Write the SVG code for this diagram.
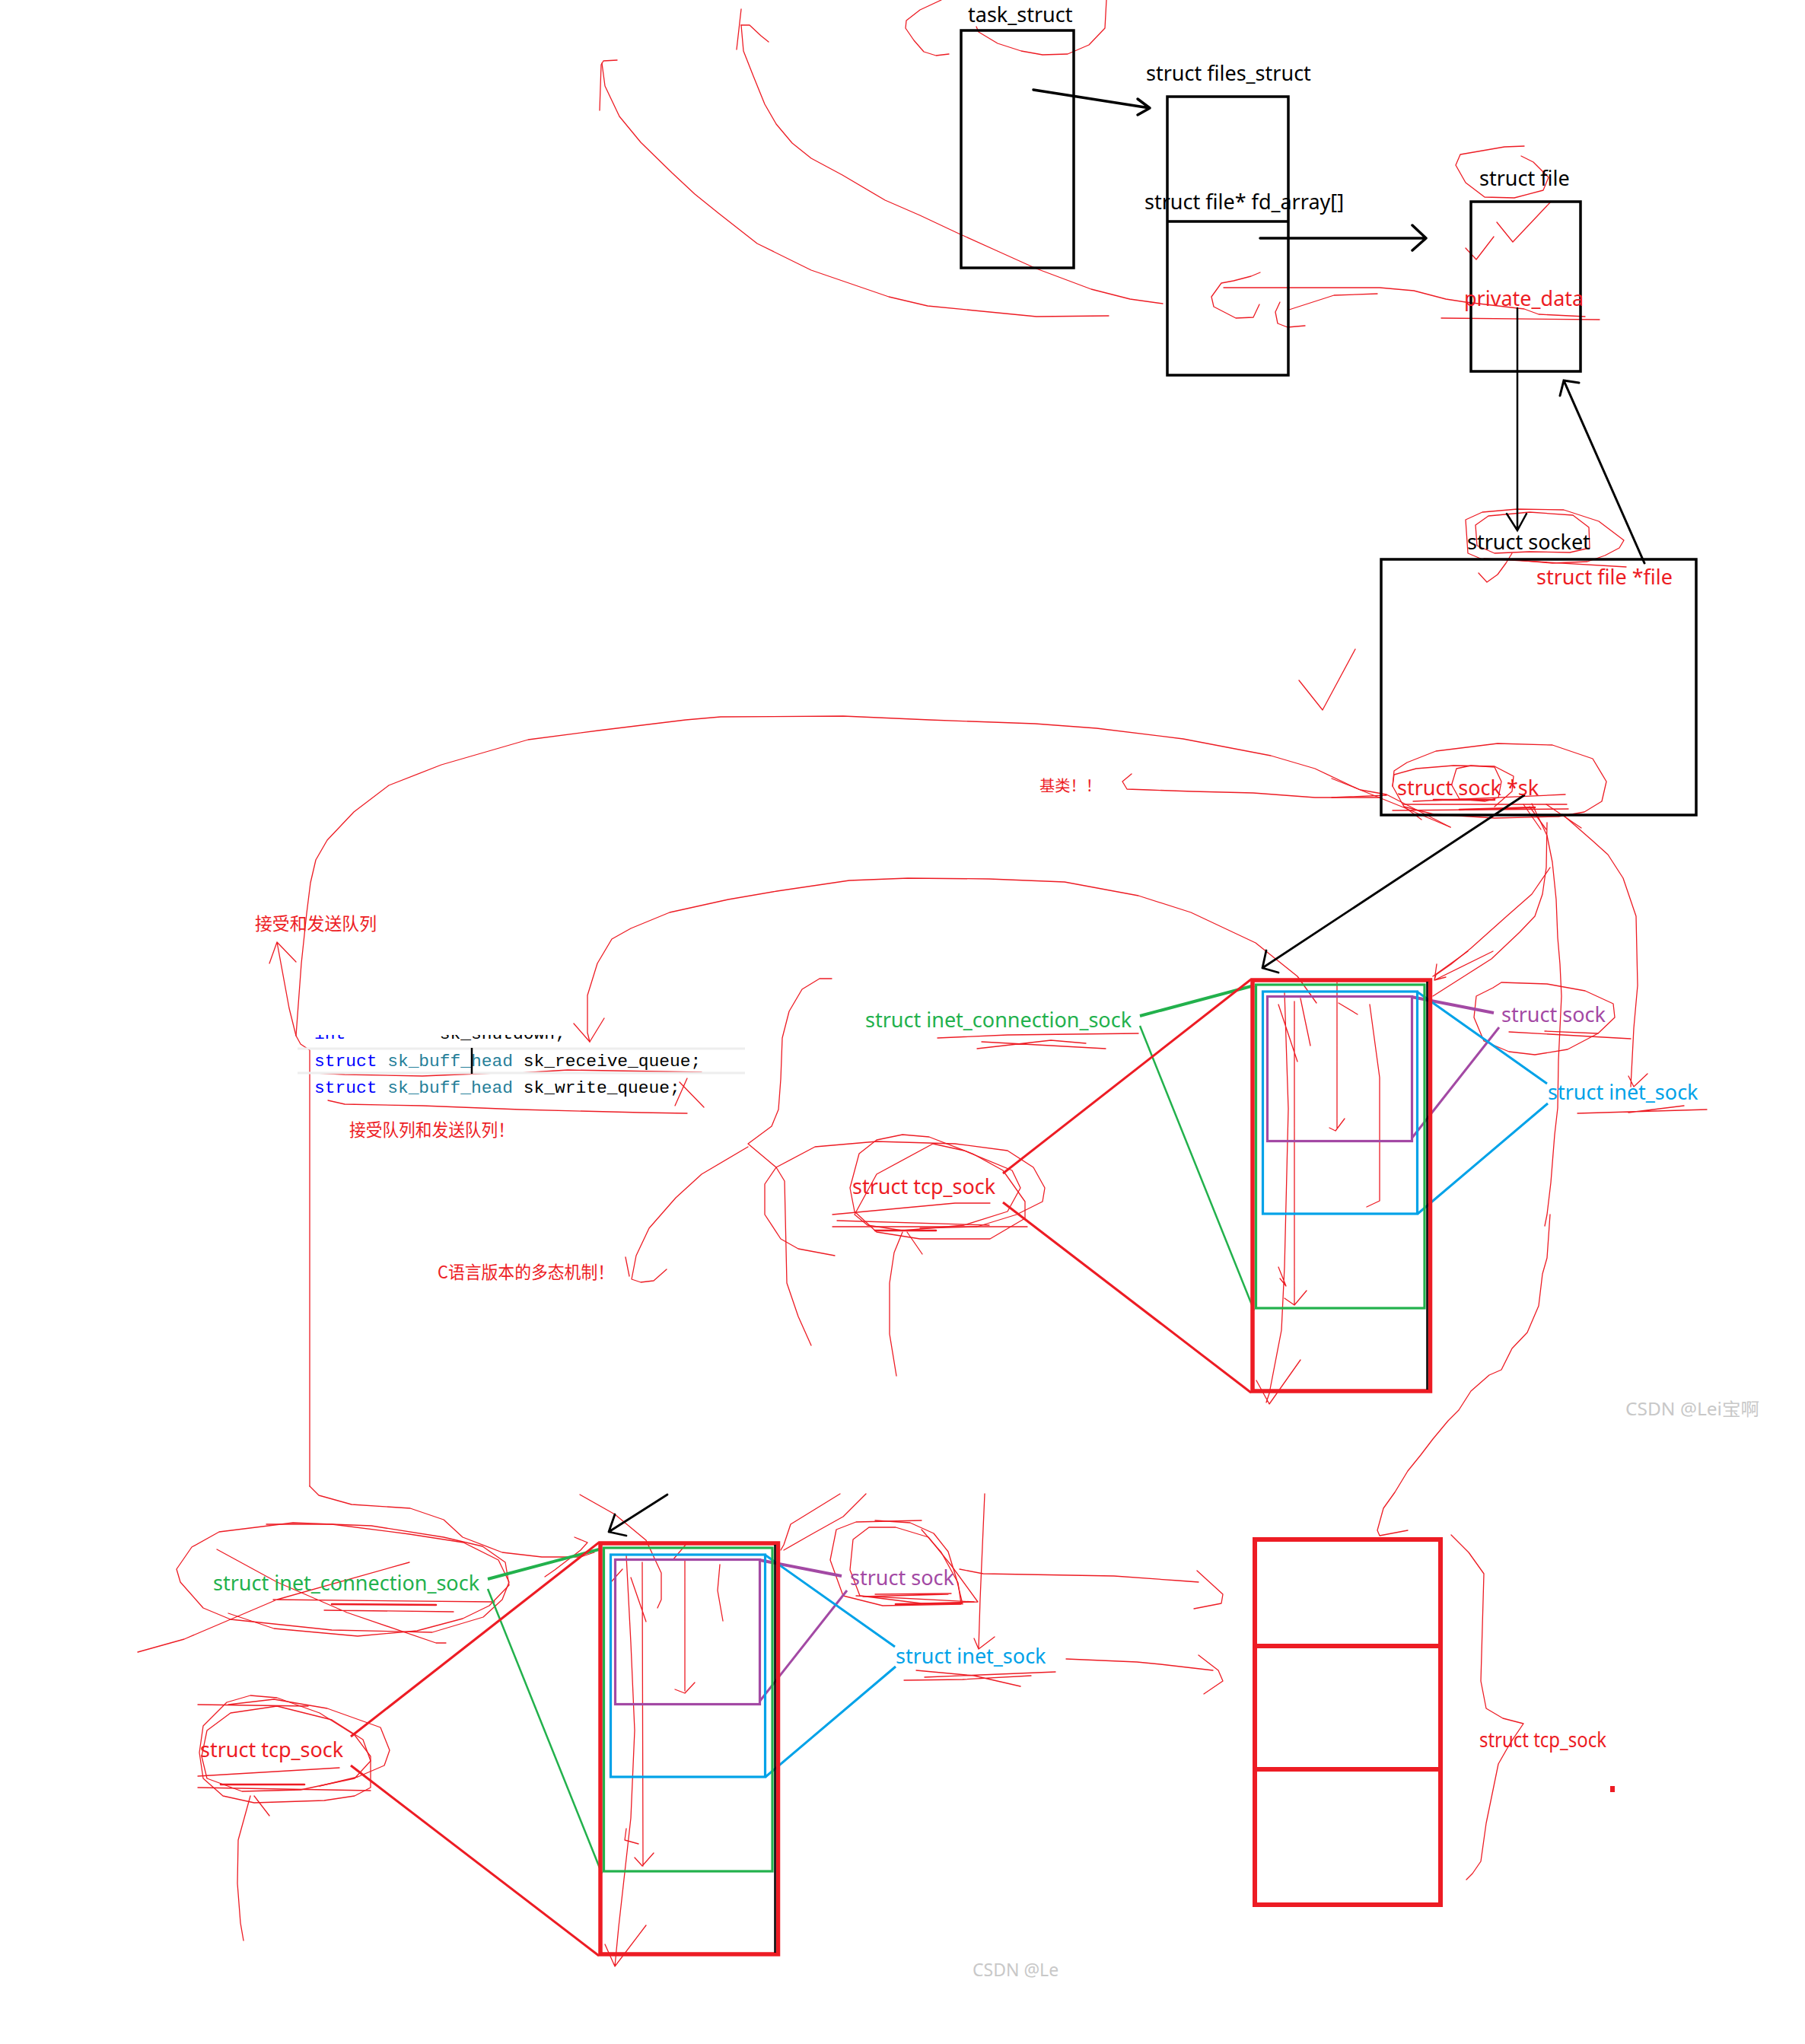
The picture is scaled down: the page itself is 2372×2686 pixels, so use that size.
<svg xmlns="http://www.w3.org/2000/svg" width="2372" height="2686" viewBox="0 0 2372 2686">
<style>
.bx{fill:none;stroke:#000;stroke-width:3.5}
.ar{fill:none;stroke:#000;stroke-width:3.5;stroke-linecap:round;stroke-linejoin:round}
.s{fill:none;stroke:#ED1C24;stroke-width:1.3;stroke-linejoin:round;stroke-linecap:round}
.st{fill:none;stroke:#ED1C24;stroke-width:2.6;stroke-linecap:round}
.t{font-family:"Noto Sans","Open Sans",sans-serif;font-size:27px}
.cn{font-family:"Noto Sans CJK SC","Noto Sans",sans-serif}
.code{font-family:"Liberation Mono","DejaVu Sans Mono",monospace;font-size:22.9px;white-space:pre}
.k{fill:#000}
.r{fill:#ED1C24}
.g{fill:#22B14C}
.b{fill:#00A2E8}
.p{fill:#A349A4}
.wm{fill:#c8c8c8;font-family:"Noto Sans","Noto Sans CJK SC",sans-serif;font-size:23px}
</style>
<defs>
<clipPath id="cl"><rect x="380" y="1360" width="620" height="11"/></clipPath>
</defs>
<rect width="2372" height="2686" fill="#fff"/>

<!-- freehand red scribbles -->
<g id="scribbles">
<path class="s" d="M811,79 L793,80 L790,85 L788,145"/>
<path class="s" d="M791,83 L795,113 L814,153 L842,187 L883,227 L913,255 L944,280 L995,320 L1066,355 L1168,390 L1219,402 L1362,416 L1457,415"/>
<path class="s" d="M974,12 L968,65 M974,33 L985,33 L1000,47 L1010,55"/>
<path class="s" d="M974,33 L977,67 L990,100 L1005,137 L1020,163 L1041,188 L1066,208 L1107,230 L1163,263 L1209,283 L1260,307 L1311,330 L1362,353 L1434,380 L1485,393 L1528,399"/>
<path class="s" d="M1247,71 L1230,73 L1214,68 L1201,53 L1190,37 L1191,27 L1209,13 L1237,0"/>
<path class="s" d="M1283,35 L1286,42 L1311,57 L1342,67 L1370,72 L1403,71 L1431,59 L1452,37 L1454,0"/>
<path class="s" d="M1656,358 L1644,363 L1621,369 L1605,372 L1592,390 L1595,403 L1624,418 L1647,417 L1655,400"/>
<path class="s" d="M1608,378 L1813,378 L1858,382 L1900,393 L1926,397 L2003,406 L2022,413 L2083,416"/>
<path class="s" d="M1682,397 L1676,410 L1679,425 L1692,430 L1715,428"/>
<path class="s" d="M1694,407 L1753,388 L1810,386"/>
<path class="s" d="M1894,418 L2102,420"/>
<path class="s" d="M2003,192 L1977,193 L1919,203 L1913,217 L1926,240 L1951,259 L1990,260 L2028,250 L2035,233 L2015,213 L1999,205"/>
<path class="s" d="M1926,326 L1940,341 L1963,311 M1967,292 L1988,318 L2038,265"/>
<path class="s" d="M1948,735 L1929,727 L1926,683 L1948,673 L1994,669 L2055,670 L2101,685 L2134,710 L2128,720 L2109,730 L2086,738 L2040,740 L1983,735 L1950,735"/>
<path class="s" d="M1939,690 L1956,678 L2010,673 L2067,677 L2088,693 L2089,720 L2063,726 L2010,725 L1964,727 L1941,717 L1939,690"/>
<path class="s" d="M1950,734 L2137,745"/>
<path class="s" d="M1987,727 L1979,740 L1968,755 L1954,765 L1943,753"/>
<path class="s" d="M1707,894 L1738,933 L1781,853"/>
<path class="s" d="M1832,1013 L1849,1002 L1887,987 L1968,977 L2040,979 L2093,997 L2111,1027 L2105,1053 L2082,1067 L2048,1073 L1964,1075 L1884,1070 L1845,1060 L1830,1033 Z"/>
<path class="s" d="M1830,1033 L1832,1018 L1861,1010 L1910,1006 L1964,1007 L1989,1020 L1987,1040 L1964,1060"/>
<path class="s" d="M1908,1030 L1914,1010 L1933,1006 L1964,1008 L1973,1027 L1969,1048 L1952,1053 L1918,1050 L1908,1032"/>
<path class="s" d="M1844,1057 L2059,1057 M1830,1065 L2061,1063 M1857,1053 L2057,1044"/>
<path class="st" d="M1918,1064 L2017,1061 M1884,1051 L1964,1051"/>
<path class="s" d="M1750,1048 L1822,1045 M1750,1023 L1788,1038 L1822,1044 L1906,1087 M1845,1060 L1868,1077"/>
<path class="s" d="M2002,1057 L2025,1090 M2010,1060 L2032,1090 M2032,1057 L2078,1088"/>
<path class="s" d="M1487,1017 L1475,1027 L1481,1037 L1510,1038 L1567,1040 L1647,1042 L1728,1048 L1814,1048"/>
<path class="s" d="M407,1953 L407,1380 L395,1372 L389,1361 L396,1266 L403,1200 L408,1160 L415,1130 L430,1104 L465,1067 L511,1032 L580,1005 L694,972 L786,960 L901,946 L947,942 L1108,941 L1222,946 L1360,951 L1441,957 L1555,971 L1670,993 L1728,1010 L1785,1037 L1842,1060 L1906,1087"/>
<path class="s" d="M407,1953 L419,1965 L462,1977 L539,1982 L583,1997 L608,2020 L660,2040 L712,2046 L763,2046 L781,2040"/>
<path class="s" d="M389,1361 L380,1325 L364,1238 M354,1266 L364,1238 L389,1264"/>
<path class="s" d="M775,1369 L772,1357 L772,1308 L785,1266 L804,1234 L829,1220 L880,1199 L957,1182 L1021,1171 L1116,1157 L1193,1154 L1300,1155 L1399,1159 L1496,1177 L1565,1199 L1650,1239 L1705,1283 L1730,1318"/>
<path class="s" d="M754,1345 L775,1369 L794,1338"/>
<path class="s" d="M1093,1286 L1077,1286 L1054,1300 L1037,1329 L1028,1364 L1026,1418 L1023,1458 L1014,1480 L983,1503 L1020,1534 L1031,1552 L1034,1686 L1049,1730 L1066,1768"/>
<path class="s" d="M983,1507 L922,1543 L888,1574 L853,1614 L836,1650 L830,1681 L842,1685 L859,1683 L876,1668 M822,1652 L827,1677"/>
<path class="s" d="M1005,1556 L1020,1534 L1071,1507 L1152,1500 L1255,1503 L1324,1512 L1358,1534 L1373,1561 L1370,1579 L1336,1596 L1284,1612 L1209,1614 M1005,1556 L1005,1596 L1026,1628 L1049,1641 L1097,1650"/>
<path class="s" d="M1117,1561 L1129,1516 L1152,1498 L1186,1491 L1221,1494 L1278,1516 L1318,1538 L1347,1579 L1347,1601 L1301,1628 L1209,1628 L1152,1619 L1123,1592 Z"/>
<path class="s" d="M1123,1596 L1152,1543 L1226,1503 L1267,1512 L1330,1538 L1341,1561 L1324,1592 L1267,1610 L1186,1617 L1140,1610 Z"/>
<path class="s" d="M1094,1596 L1255,1581 L1301,1581 M1094,1612 L1350,1612 M1100,1604 L1300,1610"/>
<path class="st" d="M1150,1617 L1230,1617"/>
<path class="s" d="M1186,1619 L1175,1646 L1169,1686 L1169,1753 L1178,1808 M1192,1619 L1212,1648"/>
<path class="s" d="M1232,1364 L1324,1360 L1496,1358 M1284,1378 L1381,1367 L1427,1371 M1290,1369 L1453,1378"/>
<path class="s" d="M415,1410 L453,1412 L555,1414 L651,1410 M683,1410 L746,1406 L922,1409 M431,1446 L453,1451 L555,1453 L683,1458 L842,1462 L903,1463 M893,1422 L925,1455 M903,1417 L887,1453"/>
<path class="s" d="M1688,1304 L1693,1457 L1688,1665 L1684,1748 L1668,1831 L1664,1843 M1701,1316 L1701,1715 M1688,1706 L1701,1715 L1717,1696 M1757,1291 L1757,1482 M1747,1482 L1755,1486 L1767,1470 M1800,1320 L1813,1416 L1813,1578 L1796,1586 M1680,1320 L1705,1395 M1709,1312 L1722,1374 M1759,1318 L1784,1333 M1651,1814 L1668,1845 L1709,1787 M1883,1283 L1929,1250 M1887,1287 L1962,1250 M1680,1665 L1690,1690 L1682,1680"/>
<path class="s" d="M2013,1056 L2033,1098 L2040,1133 L2045,1182 L2047,1232 L2050,1267 L2052,1309 L2048,1393 L2047,1456 L2043,1491 L2038,1554 L2033,1596 L2030,1611 M2037,1596 L2033,1653 L2027,1674 L2022,1716 L2007,1751 L1987,1772 L1973,1800 L1957,1807 L1933,1828 L1917,1853 L1903,1867 L1883,1891 L1867,1912 L1850,1933 L1833,1961 L1818,1982 L1810,2011 L1813,2018 L1850,2011"/>
<path class="s" d="M2033,1081 L2032,1140 L2027,1175 L2017,1204 L1997,1225 L1960,1260 L1927,1281 L1883,1309"/>
<path class="s" d="M2037,1140 L2013,1175 L1980,1204 L1933,1246 L1907,1267 L1887,1281 L1885,1288 M1888,1267 L1885,1288 L1900,1284"/>
<path class="s" d="M2053,1070 L2093,1105 L2113,1123 L2133,1154 L2150,1204 L2152,1295 L2147,1351 L2143,1428 M2140,1414 L2147,1428 L2165,1411"/>
<path class="s" d="M1962,1298 L1940,1309 L1937,1337 L1950,1368 L1983,1382 L2017,1386 L2060,1379 L2100,1358 L2122,1337 L2120,1319 L2083,1302 L2033,1293 L1973,1291 Z"/>
<path class="s" d="M1983,1356 L2143,1365 M2030,1355 L2100,1358"/>
<path class="s" d="M2073,1463 L2243,1458 M2140,1462 L2213,1453"/>
<path class="s" d="M232,2062 L252,2033 L288,2013 L385,2001 L436,2003 L538,2016 L609,2027 L655,2050 L669,2079 L660,2102 L635,2125 L568,2145 L436,2142 L303,2128 L267,2113 L237,2079 Z"/>
<path class="s" d="M350,2003 L436,2003 L488,2005 L583,2020 L634,2032 L664,2053 L669,2083 L643,2110 L608,2127 L548,2143 L470,2150 L360,2140 L300,2120"/>
<path class="s" d="M181,2171 L242,2154 L364,2102 L538,2053 M285,2036 L364,2079 L456,2119 L573,2159 L586,2159 M359,2102 L650,2105 M426,2116 L596,2118"/>
<path class="st" d="M436,2108 L573,2109"/>
<path class="s" d="M716,2072 L729,2063 L763,2037 L772,2027 L755,2020"/>
<path class="s" d="M262,2303 L267,2268 L298,2237 L329,2228 L364,2231 L420,2251 L466,2280 L487,2308 L487,2349 L466,2360 L426,2366 L334,2369 L293,2360 L267,2337 Z"/>
<path class="s" d="M272,2274 L303,2251 L364,2242 L436,2260 L477,2286 L487,2314 L466,2337 L395,2352 L318,2354 L272,2337 L265,2308 Z"/>
<path class="s" d="M300,2240 L360,2233 L430,2245 L500,2270 L512,2300 L505,2320 L470,2335 L420,2347"/>
<path class="s" d="M260,2334 L446,2323 M260,2349 L487,2353 M260,2240 L405,2242"/>
<path class="st" d="M290,2345 L400,2345"/>
<path class="s" d="M329,2360 L313,2418 L312,2475 L316,2527 L320,2550 M334,2360 L354,2386"/>
<path class="s" d="M823,2044 L829,2159 L834,2274 L829,2389 L813,2532 L808,2584 M844,2053 L845,2452 M834,2441 L844,2452 L859,2435 M900,2050 L900,2222 M887,2220 L900,2225 L913,2211 M829,2073 L849,2131 M946,2056 L943,2090 L950,2130 M795,2555 L808,2584 L849,2530 M823,2403 L821,2418 L839,2423 M818,2062 L803,2079"/>
<path class="s" d="M762,1964 L808,1990 L849,2024 L869,2067 L869,2102 L864,2113"/>
<path class="s" d="M1104,1963 L1039,2003 L1030,2030 L1026,2037 M1138,1963 L1108,1993 L1065,2017 L1030,2037 M901,2030 L884,2050"/>
<path class="s" d="M1211,1998 L1125,2000 L1099,2010 L1091,2050 L1108,2097 L1160,2110 L1263,2108 L1259,2080 L1237,2040 L1211,2010"/>
<path class="s" d="M1150,1998 L1196,2001 L1227,2015 L1246,2039 L1257,2075 L1265,2108"/>
<path class="s" d="M1142,2007 L1121,2023 L1117,2063 L1130,2097 L1211,2107 L1285,2105 L1250,2057 L1220,2020 L1177,2007 Z"/>
<path class="s" d="M1125,2097 L1280,2105 M1134,2098 L1246,2095 M1150,2095 L1250,2094"/>
<path class="st" d="M1177,2108 L1263,2107"/>
<path class="s" d="M1294,1963 L1288,2102 L1286,2167 M1280,2153 L1286,2167 L1307,2151"/>
<path class="s" d="M1261,2062 L1292,2068 L1464,2071 L1548,2077 L1575,2079 M1573,2064 L1607,2095 L1605,2107 L1569,2114"/>
<path class="s" d="M1401,2180 L1494,2184 L1525,2187 L1594,2195 M1575,2175 L1601,2195 L1607,2209 L1582,2226"/>
<path class="s" d="M1204,2195 L1280,2202 L1341,2216 M1188,2208 L1265,2207 L1355,2202 M1215,2204 L1387,2197"/>
<path class="s" d="M1907,2017 L1930,2040 L1950,2068 L1946,2209 L1953,2245 L1975,2258 L2002,2265 L1985,2290 L1969,2318 L1953,2396 L1946,2446 L1935,2462 L1927,2470"/>
<rect x="2116" y="2347" width="6" height="8" fill="#ED1C24"/>
</g>

<!-- connectors -->
<g id="connectors">
<path class="ar" d="M1358,118 L1511,142 M1495,130 L1511,142 L1495,151"/>
<path class="ar" d="M1656,313 L1874,313 M1856,296 L1874,313 L1856,329"/>
<path fill="none" stroke="#000" stroke-width="2.5" stroke-linecap="round" d="M1994,405 L1994,697 M1980,675 L1994,697 L2006,675"/>
<path fill="none" stroke="#000" stroke-width="3" stroke-linecap="round" d="M2161,740 L2055,500 M2050,520 L2055,500 L2075,503"/>
<path fill="none" stroke="#000" stroke-width="2.8" stroke-linecap="round" stroke-linejoin="round" d="M2003,1045 L1659,1272 M1664,1249 L1659,1272 L1680,1278"/>
<path fill="none" stroke="#000" stroke-width="2.8" stroke-linecap="round" stroke-linejoin="round" d="M877,1964 L800,2013 M808,1990 L800,2013 L823,2018"/>
<line x1="1498" y1="1335" x2="1648" y2="1295" stroke="#22B14C" stroke-width="4"/>
<line x1="1498" y1="1348" x2="1648" y2="1722" stroke="#22B14C" stroke-width="2.5"/>
<line x1="1318" y1="1542" x2="1644" y2="1287" stroke="#ED1C24" stroke-width="3"/>
<line x1="1318" y1="1580" x2="1644" y2="1830" stroke="#ED1C24" stroke-width="3"/>
<line x1="1855" y1="1310" x2="1963" y2="1331" stroke="#A349A4" stroke-width="4"/>
<line x1="1855" y1="1496" x2="1970" y2="1350" stroke="#A349A4" stroke-width="3"/>
<line x1="1862" y1="1303" x2="2033" y2="1424" stroke="#00A2E8" stroke-width="3"/>
<line x1="1863" y1="1595" x2="2034" y2="1450" stroke="#00A2E8" stroke-width="3"/>
<line x1="641" y1="2075" x2="791" y2="2035" stroke="#22B14C" stroke-width="4"/>
<line x1="641" y1="2088" x2="791" y2="2462" stroke="#22B14C" stroke-width="2.5"/>
<line x1="461" y1="2282" x2="787" y2="2027" stroke="#ED1C24" stroke-width="3"/>
<line x1="461" y1="2320" x2="787" y2="2570" stroke="#ED1C24" stroke-width="3"/>
<line x1="998" y1="2050" x2="1106" y2="2071" stroke="#A349A4" stroke-width="4"/>
<line x1="998" y1="2236" x2="1113" y2="2090" stroke="#A349A4" stroke-width="3"/>
<line x1="1005" y1="2043" x2="1176" y2="2164" stroke="#00A2E8" stroke-width="3"/>
<line x1="1006" y1="2335" x2="1177" y2="2190" stroke="#00A2E8" stroke-width="3"/>
</g>

<g id="task_struct">
<rect class="bx" x="1263" y="40" width="148" height="312"/>
<text class="t k" x="1272" y="29">task_struct</text>
</g>
<g id="files_struct">
<rect class="bx" x="1534" y="127" width="159" height="366"/>
<line x1="1534" y1="291" x2="1693" y2="291" stroke="#000" stroke-width="3.5"/>
<text class="t k" x="1506" y="106">struct files_struct</text>
<text class="t k" x="1504" y="275">struct file* fd_array[]</text>
</g>
<g id="struct_file">
<rect class="bx" x="1933" y="265" width="144" height="223"/>
<text class="t k" x="1944" y="244">struct file</text>
<text class="t r" x="1924" y="402">private_data</text>
</g>
<g id="struct_socket">
<rect class="bx" x="1815" y="735" width="414" height="336"/>
<text class="t k" x="1928" y="722">struct socket</text>
<text class="t r" x="2019" y="768">struct file *file</text>
<text class="t r" x="1836" y="1045">struct sock *sk</text>
</g>
<g id="note_base">
<text class="cn r" x="1366" y="1040" font-size="20" textLength="81" lengthAdjust="spacingAndGlyphs">基类！！</text>
</g>
<g id="code">
<line x1="391" y1="1378" x2="979" y2="1378" stroke="#eeeeee" stroke-width="3"/>
<line x1="391" y1="1410" x2="979" y2="1410" stroke="#eeeeee" stroke-width="3"/>
<text class="code" x="413" y="1365" clip-path="url(#cl)"><tspan fill="#0000FF">int</tspan><tspan fill="#000">         sk_shutdown;</tspan></text>
<text class="code" x="413" y="1401"><tspan fill="#0000FF">struct</tspan><tspan fill="#267F99"> sk_buff_head</tspan><tspan fill="#000"> sk_receive_queue;</tspan></text>
<text class="code" x="413" y="1436"><tspan fill="#0000FF">struct</tspan><tspan fill="#267F99"> sk_buff_head</tspan><tspan fill="#000"> sk_write_queue;</tspan></text>
<line x1="620" y1="1377" x2="620" y2="1411" stroke="#000" stroke-width="2.5"/>
<text class="cn r" x="335" y="1222" font-size="23" textLength="160" lengthAdjust="spacingAndGlyphs">接受和发送队列</text>
<text class="cn r" x="459" y="1493" font-size="22.5" textLength="217" lengthAdjust="spacingAndGlyphs">接受队列和发送队列！</text>
<text class="cn r" x="575" y="1680" font-size="22.5" textLength="232" lengthAdjust="spacingAndGlyphs">C语言版本的多态机制！</text>
</g>

<g id="composite_upper">
<rect x="1646" y="1288" width="233.5" height="540" fill="none" stroke="#ED1C24" stroke-width="5.5"/>
<line x1="1875.5" y1="1290" x2="1875.5" y2="1826" stroke="#000" stroke-width="2.5"/>
<rect x="1650.5" y="1294" width="221.5" height="425" fill="none" stroke="#22B14C" stroke-width="3.2"/>
<rect x="1659.5" y="1303" width="203" height="292" fill="none" stroke="#00A2E8" stroke-width="3.2"/>
<rect x="1665.5" y="1309.5" width="190" height="190" fill="none" stroke="#A349A4" stroke-width="3.2"/>
<text class="t g" x="1137" y="1350">struct inet_connection_sock</text>
<text class="t r" x="1120" y="1569">struct tcp_sock</text>
<text class="t p" x="1973" y="1343">struct sock</text>
<text class="t b" x="2034" y="1445">struct inet_sock</text>
</g>

<g id="composite_lower">
<rect x="789" y="2028" width="233.5" height="540" fill="none" stroke="#ED1C24" stroke-width="5.5"/>
<line x1="1018.5" y1="2030" x2="1018.5" y2="2566" stroke="#000" stroke-width="2.5"/>
<rect x="793.5" y="2034" width="221.5" height="425" fill="none" stroke="#22B14C" stroke-width="3.2"/>
<rect x="802.5" y="2043" width="203" height="292" fill="none" stroke="#00A2E8" stroke-width="3.2"/>
<rect x="808.5" y="2049.5" width="190" height="190" fill="none" stroke="#A349A4" stroke-width="3.2"/>
<text class="t g" x="280" y="2090">struct inet_connection_sock</text>
<text class="t r" x="263" y="2309">struct tcp_sock</text>
<text class="t p" x="1117" y="2083">struct sock</text>
<text class="t b" x="1177" y="2186">struct inet_sock</text>
</g>

<g id="tcp_sock_layout">
<rect x="1649" y="2023" width="244" height="480" fill="none" stroke="#ED1C24" stroke-width="6"/>
<line x1="1649" y1="2163" x2="1893" y2="2163" stroke="#ED1C24" stroke-width="6"/>
<line x1="1649" y1="2325" x2="1893" y2="2325" stroke="#ED1C24" stroke-width="6"/>
<text class="t r" x="1944" y="2296" font-size="22" textLength="167" lengthAdjust="spacingAndGlyphs">struct tcp_sock</text>
</g>

<g id="watermarks">
<text class="wm" x="2136" y="1860" textLength="176" lengthAdjust="spacingAndGlyphs">CSDN @Lei宝啊</text>
<text class="wm" x="1278" y="2597">CSDN @Le</text>
</g>
</svg>
